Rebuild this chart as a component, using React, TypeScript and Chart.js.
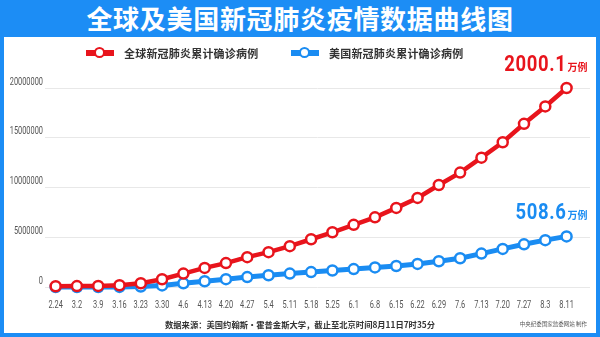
import React, { useEffect, useRef } from "react";
import { Chart, registerables } from "chart.js";

Chart.register(...registerables);

const dateLabels = ["2.24", "3.2", "3.9", "3.16", "3.23", "3.30", "4.6", "4.13", "4.20", "4.27", "5.4", "5.11", "5.18", "5.25", "6.1", "6.8", "6.15", "6.22", "6.29", "7.6", "7.13", "7.20", "7.27", "8.3", "8.11"];

const globalCases = [79000, 89000, 110000, 180000, 380000, 780000, 1350000, 1920000, 2400000, 3000000, 3500000, 4100000, 4800000, 5500000, 6250000, 7000000, 7950000, 8950000, 10250000, 11500000, 13000000, 14550000, 16400000, 18150000, 20001000];

const usCases = [50, 100, 600, 4600, 43000, 160000, 370000, 580000, 790000, 1000000, 1180000, 1350000, 1500000, 1660000, 1800000, 1970000, 2110000, 2320000, 2590000, 2890000, 3360000, 3830000, 4290000, 4710000, 5086000];

const yTicks = [0, 5000000, 10000000, 15000000, 20000000];

const seriesNames = ["全球新冠肺炎累计确诊病例", "美国新冠肺炎累计确诊病例"];

const RED = "#e8141c";
const BLUE = "#1a8cf2";
const BAND = "#1c8df5";
const NARROW = 0.74;

// Draw condensed tick labels (no narrow font installed), positioned by the chart's scales
const condensedTicks = {
  id: "condensedTicks",
  beforeDatasetsDraw(chart: any) {
    const ctx = chart.ctx;
    const xs = chart.scales.x;
    const ys = chart.scales.y;
    ctx.save();
    ctx.fillStyle = "#555";
    ctx.font = '10px Roboto, "Noto Sans", sans-serif';
    ctx.textBaseline = "middle";
    ctx.textAlign = "right";
    yTicks.forEach((v) => {
      const py = ys.getPixelForValue(v) - 6;
      ctx.save();
      ctx.translate(chart.chartArea.left - 2, py);
      ctx.scale(NARROW, 1);
      ctx.fillText(String(v), 0, 0);
      ctx.restore();
    });
    ctx.textAlign = "center";
    dateLabels.forEach((lab, i) => {
      const px = xs.getPixelForValue(i);
      ctx.save();
      ctx.translate(px, chart.chartArea.bottom + 18);
      ctx.scale(NARROW, 1);
      ctx.fillText(lab, 0, 0);
      ctx.restore();
    });
    ctx.restore();
  },
};

const endLabels = {
  id: "endLabels",
  afterDatasetsDraw(chart: any) {
    const ctx = chart.ctx;
    chart.data.datasets.forEach((ds: any, di: number) => {
      const meta = chart.getDatasetMeta(di);
      const pt = meta.data[meta.data.length - 1];
      const last = ds.data[ds.data.length - 1].y;
      const num = (last / 10000).toFixed(1);
      const right = pt.x + 21;
      const base = pt.y - 17;
      ctx.save();
      ctx.fillStyle = ds.borderColor;
      ctx.textBaseline = "alphabetic";
      ctx.font = 'bold 10px "Noto Sans CJK SC"';
      const uw = ctx.measureText("万例").width;
      ctx.textAlign = "left";
      ctx.fillText("万例", right - uw, base);
      ctx.font = 'bold 22px Roboto, "Noto Sans", sans-serif';
      try { (ctx as any).letterSpacing = "0.8px"; } catch (e) {}
      ctx.textAlign = "right";
      ctx.translate(right - uw - 1, base);
      ctx.scale(0.84, 1);
      ctx.fillText(num, 0, 0);
      ctx.restore();
    });
  },
};

function LegendItem({ color, left, text }: { color: string; left: number; text: string }) {
  return (
    <>
      <div style={{ position: "absolute", left, top: 50, width: 28, height: 6, background: color }} />
      <div
        style={{
          position: "absolute",
          left: left + 8,
          top: 47,
          width: 7,
          height: 7,
          borderRadius: "50%",
          background: "#fff",
          border: `2.5px solid ${color}`,
        }}
      />
      <div
        style={{
          position: "absolute",
          left: left + 38,
          top: 44,
          height: 18,
          lineHeight: "18px",
          fontSize: 11,
          fontWeight: 700,
          letterSpacing: 0.2,
          color: "#333",
          whiteSpace: "nowrap",
        }}
      >
        {text}
      </div>
    </>
  );
}

export default function App() {
  const canvasRef = useRef<HTMLCanvasElement | null>(null);

  useEffect(() => {
    if (!canvasRef.current) return;
    const chart = new Chart(canvasRef.current, {
      type: "line",
      data: {
        datasets: [
          {
            label: seriesNames[0],
            data: globalCases.map((v, i) => ({ x: i, y: v })),
            borderColor: RED,
            backgroundColor: RED,
            borderWidth: 4.5,
            pointRadius: 5,
            pointBorderWidth: 2.5,
            pointBackgroundColor: "#fff",
            pointBorderColor: RED,
            tension: 0,
            clip: false as any,
          },
          {
            label: seriesNames[1],
            data: usCases.map((v, i) => ({ x: i, y: v })),
            borderColor: BLUE,
            backgroundColor: BLUE,
            borderWidth: 5,
            pointRadius: 5,
            pointBorderWidth: 2.5,
            pointBackgroundColor: "#fff",
            pointBorderColor: BLUE,
            tension: 0,
            clip: false as any,
          },
        ],
      },
      options: {
        responsive: false,
        animation: false,
        events: [],
        layout: { padding: { top: 88, right: 10, left: 0, bottom: 0 } },
        plugins: { legend: { display: false }, tooltip: { enabled: false }, title: { display: false } },
        scales: {
          x: {
            type: "linear",
            min: -0.5,
            max: 25.1,
            grid: { display: false },
            border: { display: false },
            afterBuildTicks: (axis: any) => {
              axis.ticks = dateLabels.map((_, i) => ({ value: i }));
            },
            afterFit: (axis: any) => {
              axis.height = 50;
            },
            ticks: { display: false },
          },
          y: {
            min: 0,
            max: 20000000,
            grid: { color: "#e8e8e8", lineWidth: 1, drawTicks: false },
            border: { display: false },
            afterBuildTicks: (axis: any) => {
              axis.ticks = yTicks.map((v) => ({ value: v }));
            },
            afterFit: (axis: any) => {
              axis.width = 45;
            },
            ticks: { display: false },
          },
        },
      },
      plugins: [condensedTicks, endLabels],
    } as any);
    return () => chart.destroy();
  }, []);

  return (
    <div
      style={{
        position: "absolute",
        left: 0,
        top: 0,
        width: 600,
        height: 337,
        background: BAND,
        overflow: "hidden",
        fontFamily: '"Noto Sans CJK SC", sans-serif',
      }}
    >
      <div
        style={{
          position: "absolute",
          left: 0,
          top: 0,
          width: 600,
          height: 37,
          lineHeight: "36px",
          textAlign: "center",
          color: "#fff",
          fontSize: 26,
          fontWeight: 700,
          letterSpacing: 0.7,
        }}
      >
        全球及美国新冠肺炎疫情数据曲线图
      </div>
      <div style={{ position: "absolute", left: 4, top: 37, width: 592, height: 296, background: "#fff" }} />
      <canvas ref={canvasRef} width={600} height={337} style={{ position: "absolute", left: 0, top: 0, width: 600, height: 337 }} />
      <LegendItem color={RED} left={86} text={seriesNames[0]} />
      <LegendItem color={BLUE} left={291} text={seriesNames[1]} />
      <div
        style={{
          position: "absolute",
          left: 0,
          width: 600,
          top: 317,
          height: 14,
          lineHeight: "14px",
          textAlign: "center",
          fontSize: 8.3,
          fontWeight: 700,
          color: "#333",
          whiteSpace: "nowrap",
        }}
      >
        数据来源：美国约翰斯·霍普金斯大学，截止至北京时间8月11日7时35分
      </div>
      <div
        style={{
          position: "absolute",
          right: 13,
          top: 319,
          height: 10,
          lineHeight: "10px",
          fontSize: 5.5,
          color: "#555",
          whiteSpace: "nowrap",
        }}
      >
        中央纪委国家监委网站 制作
      </div>
    </div>
  );
}
